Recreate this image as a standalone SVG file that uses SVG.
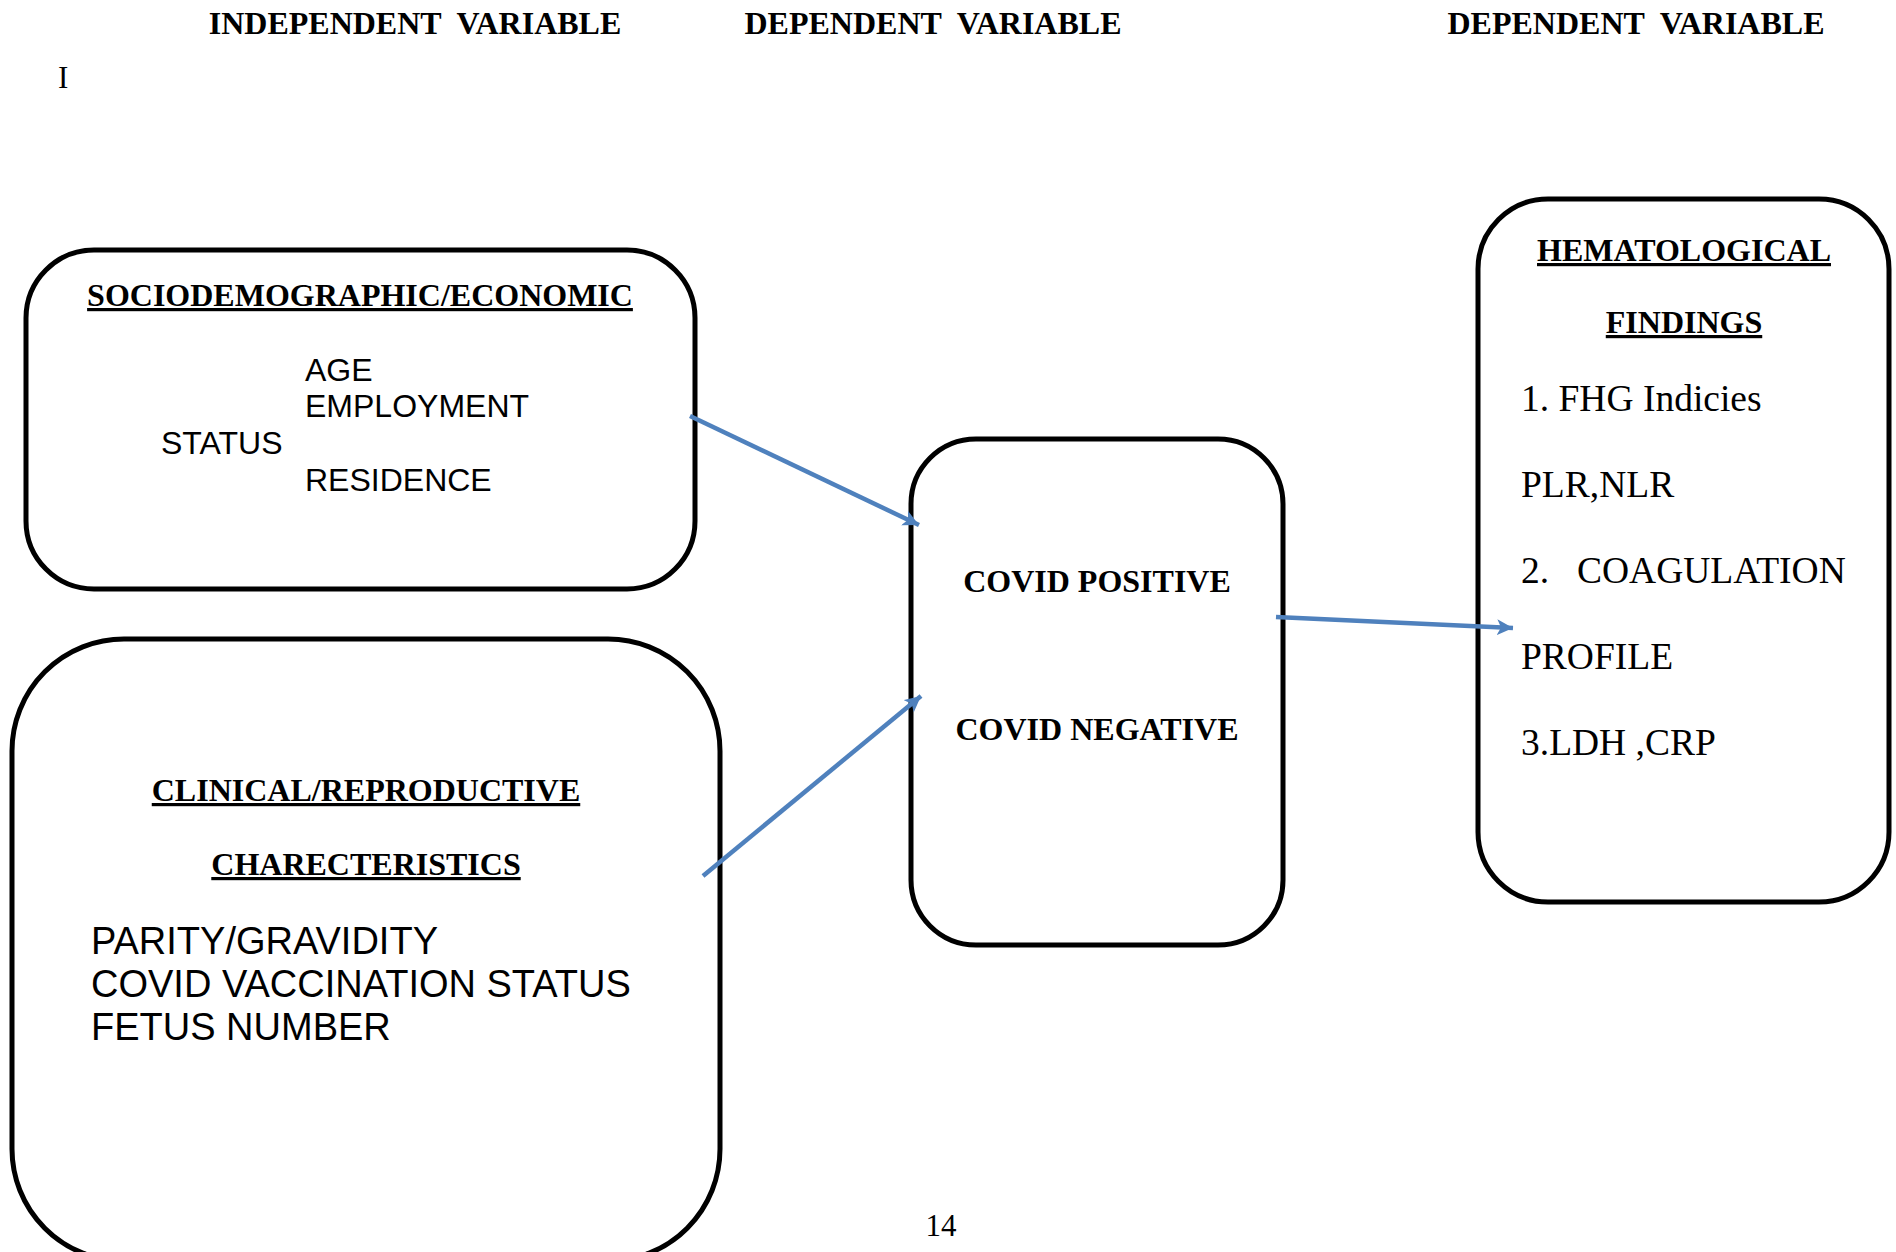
<svg xmlns="http://www.w3.org/2000/svg" width="1896" height="1252" viewBox="0 0 1896 1252">
  <style>
    .box { fill: #ffffff; stroke: #000000; stroke-width: 5; }
    .hdr { font-family: "Liberation Serif", "Times New Roman", serif; font-weight: bold; font-size: 32px; fill: #000; white-space: pre; }
    .ttl { font-family: "Liberation Serif", "Times New Roman", serif; font-weight: bold; font-size: 32px; fill: #000; text-decoration: underline; }
    .bold { font-family: "Liberation Serif", "Times New Roman", serif; font-weight: bold; font-size: 32px; fill: #000; }
    .serif { font-family: "Liberation Serif", "Times New Roman", serif; font-size: 37.5px; fill: #000; }
    .plain { font-family: "Liberation Serif", "Times New Roman", serif; font-size: 31px; fill: #000; }
    .sans { font-family: "Liberation Sans", Arial, sans-serif; font-size: 32px; fill: #000; }
    .sans-lg { font-family: "Liberation Sans", Arial, sans-serif; font-size: 38px; fill: #000; }
    .link { stroke: #4F81BD; stroke-width: 4.5; fill: none; marker-end: url(#head); }
  </style>
  <defs>
    <marker id="head" markerUnits="userSpaceOnUse" markerWidth="18" markerHeight="16" refX="16" refY="8" orient="auto">
      <path d="M0,0 L16,8 L0,16 L4,8 Z" fill="#4F81BD"/>
    </marker>
  </defs>

  <rect width="1896" height="1252" fill="#ffffff"/>

  <!-- column headings -->
  <g id="headings">
    <text class="hdr" x="415" y="34" text-anchor="middle">INDEPENDENT  VARIABLE</text>
    <text class="hdr" x="933" y="34" text-anchor="middle">DEPENDENT  VARIABLE</text>
    <text class="hdr" x="1636" y="34" text-anchor="middle">DEPENDENT  VARIABLE</text>
    <text class="plain" x="58" y="88">I</text>
  </g>

  <!-- independent: sociodemographic factors -->
  <g id="sociodemographic">
    <rect class="box" x="26" y="250" width="669" height="339" rx="68" ry="68"/>
    <text class="ttl" x="360" y="306" text-anchor="middle">SOCIODEMOGRAPHIC/ECONOMIC</text>
    <text class="sans" x="305" y="381">AGE</text>
    <text class="sans" x="305" y="417">EMPLOYMENT</text>
    <text class="sans" x="161" y="454">STATUS</text>
    <text class="sans" x="305" y="491">RESIDENCE</text>
  </g>

  <!-- independent: clinical / reproductive factors -->
  <g id="clinical">
    <rect class="box" x="12" y="639" width="708" height="622" rx="112" ry="112"/>
    <text class="ttl" x="366" y="801" text-anchor="middle">CLINICAL/REPRODUCTIVE</text>
    <text class="ttl" x="366" y="875" text-anchor="middle">CHARECTERISTICS</text>
    <text class="sans-lg" x="91" y="954">PARITY/GRAVIDITY</text>
    <text class="sans-lg" x="91" y="997">COVID VACCINATION STATUS</text>
    <text class="sans-lg" x="91" y="1040">FETUS NUMBER</text>
  </g>

  <!-- dependent: covid status -->
  <g id="covid-status">
    <rect class="box" x="911" y="439" width="372" height="506" rx="65" ry="65"/>
    <text class="bold" x="1097" y="592" text-anchor="middle">COVID POSITIVE</text>
    <text class="bold" x="1097" y="740" text-anchor="middle">COVID NEGATIVE</text>
  </g>

  <!-- dependent: hematological findings -->
  <g id="hematological">
    <rect class="box" x="1478" y="199" width="411" height="703" rx="70" ry="70"/>
    <text class="ttl" x="1684" y="261" text-anchor="middle">HEMATOLOGICAL</text>
    <text class="ttl" x="1684" y="333" text-anchor="middle">FINDINGS</text>
    <text class="serif" x="1521" y="411">1. FHG Indicies</text>
    <text class="serif" x="1521" y="497">PLR,NLR</text>
    <text class="serif" y="583"><tspan x="1521">2.</tspan><tspan x="1577">COAGULATION</tspan></text>
    <text class="serif" x="1521" y="669">PROFILE</text>
    <text class="serif" x="1521" y="755">3.LDH ,CRP</text>
  </g>

  <!-- connectors -->
  <g id="connectors">
    <line class="link" x1="690" y1="416" x2="919" y2="525"/>
    <line class="link" x1="703" y1="876" x2="921" y2="696"/>
    <line class="link" x1="1276" y1="617" x2="1513" y2="628"/>
  </g>

  <!-- page number -->
  <text class="plain" x="941" y="1236" text-anchor="middle">14</text>
</svg>
